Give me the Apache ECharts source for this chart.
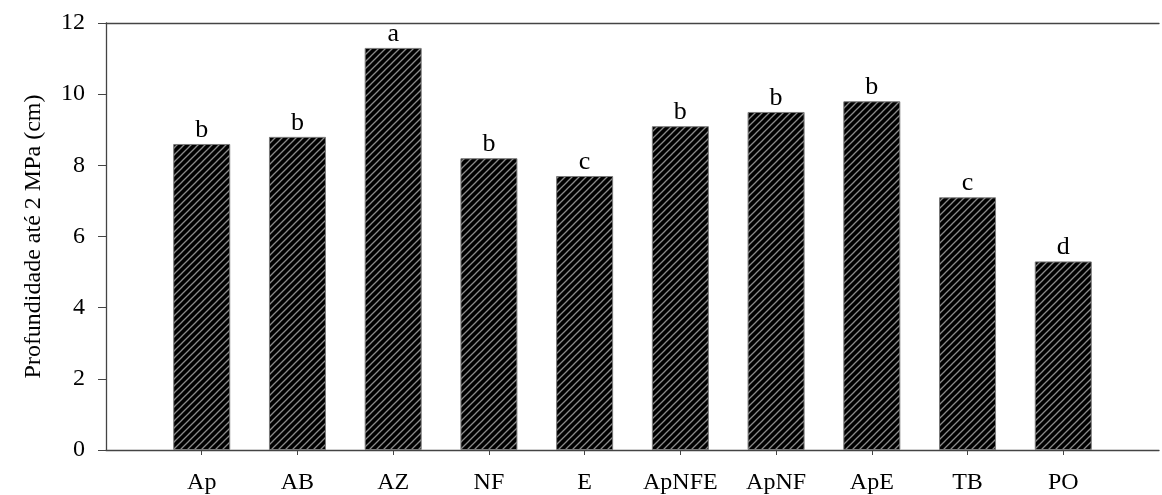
<!DOCTYPE html>
<html>
<head>
<meta charset="utf-8">
<script src="https://cdn.jsdelivr.net/npm/echarts@6/dist/echarts.min.js"></script>
<style>
html,body{margin:0;padding:0;background:#fff;}
#chart{width:1162px;height:495px;}
</style>
</head>
<body>
<div id="chart"></div>
<script>
const categories = ['Ap','AB','AZ','NF','E','ApNFE','ApNF','ApE','TB','PO'];
const values = [8.6, 8.8, 11.3, 8.2, 7.7, 9.1, 9.5, 9.8, 7.1, 5.3];
const letters = ['b','b','a','b','c','b','b','b','c','d'];
const yTicks = [0, 2, 4, 6, 8, 10, 12];
const yName = 'Profundidade até 2 MPa (cm)';

// padded category list so the axis spans one extra slot on each side
const axisCats = [''].concat(categories, ['']);
const seriesData = [null].concat(values.map((v, i) => ({ value: v, letter: letters[i] })), [null]);

// hatch pattern
const tile = document.createElement('canvas');
const T = 7;
tile.width = T; tile.height = T;
const ctx = tile.getContext('2d');
ctx.fillStyle = '#000';
ctx.fillRect(0, 0, T, T);
ctx.strokeStyle = '#8a8a8a';
ctx.lineWidth = 1.3;
ctx.beginPath();
ctx.moveTo(-1, T + 1); ctx.lineTo(T + 1, -1);
ctx.moveTo(-1, 1); ctx.lineTo(1, -1);
ctx.moveTo(T - 1, T + 1); ctx.lineTo(T + 1, T - 1);
ctx.stroke();

const font = '"Liberation Serif", "Times New Roman", serif';
const chart = echarts.init(document.getElementById('chart'));
chart.setOption({
  animation: false,
  backgroundColor: '#fff',
  grid: { left: 106, right: 0, top: 23, bottom: 44, containLabel: false },
  xAxis: [{
    type: 'category',
    data: axisCats,
    boundaryGap: false,
    axisLine: { lineStyle: { color: '#444', width: 1.3 } },
    axisTick: {
      show: true, inside: false, length: 5, alignWithLabel: true,
      interval: (idx, val) => val !== '',
      lineStyle: { color: '#444' }
    },
    axisLabel: { color: '#000', fontFamily: font, fontSize: 24, margin: 21, interval: 0 },
    splitLine: { show: false }
  }, {
    type: 'category',
    data: axisCats,
    boundaryGap: false,
    position: 'top',
    axisLine: { show: true, lineStyle: { color: '#444', width: 1.3 } },
    axisTick: { show: false },
    axisLabel: { show: false },
    splitLine: { show: false }
  }],
  yAxis: {
    type: 'value',
    min: yTicks[0],
    max: yTicks[yTicks.length - 1],
    interval: 2,
    name: yName,
    nameLocation: 'middle',
    nameGap: 60,
    nameTextStyle: { color: '#000', fontFamily: font, fontSize: 24 },
    axisLine: { show: true, lineStyle: { color: '#444', width: 1.3 } },
    axisTick: { show: true, inside: false, length: 8, lineStyle: { color: '#444' } },
    axisLabel: { color: '#000', fontFamily: font, fontSize: 24, margin: 21 },
    splitLine: { show: false }
  },
  series: [{
    type: 'bar',
    data: seriesData,
    barWidth: 57,
    itemStyle: {
      color: { image: tile, repeat: 'repeat' },
      borderColor: '#7a7a7a',
      borderWidth: 1
    },
    label: {
      show: true,
      position: 'top',
      distance: 1,
      color: '#000',
      fontFamily: font,
      fontSize: 26,
      formatter: p => (p.data && p.data.letter) || ''
    }
  }]
});
</script>
</body>
</html>
